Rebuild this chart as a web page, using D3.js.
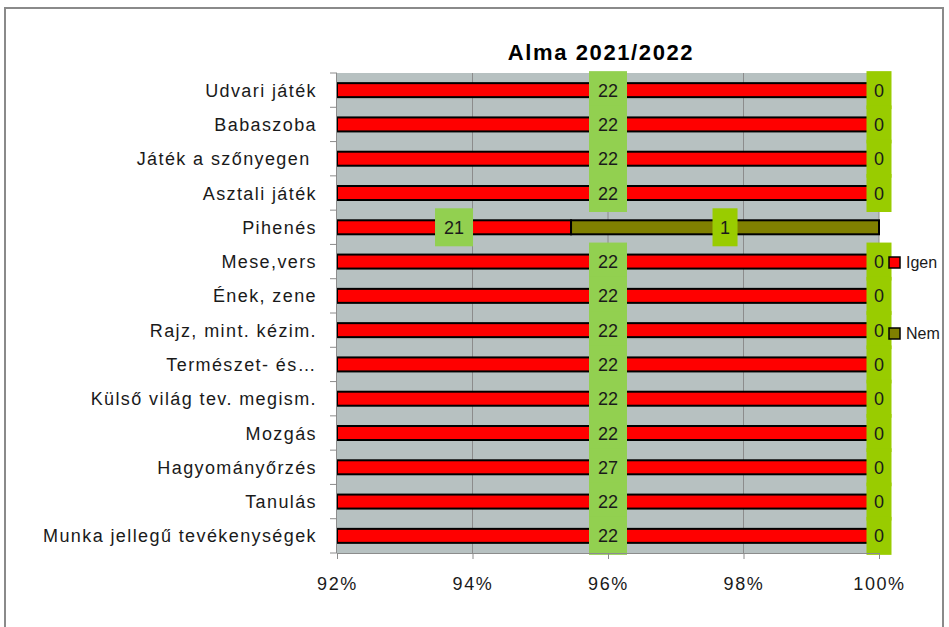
<!DOCTYPE html>
<html>
<head>
<meta charset="utf-8">
<script src="https://cdn.jsdelivr.net/npm/d3@7/dist/d3.min.js"></script>
<style>
  html, body { margin: 0; padding: 0; background: #ffffff; }
  svg { display: block; }
  text { font-family: "Liberation Sans", "Open Sans", sans-serif; }
</style>
</head>
<body>
<svg id="chart" width="949" height="627"></svg>
<script>
// ---- data ----
const title = "Alma 2021/2022";
const categories = [
  "Udvari játék", "Babaszoba", "Játék a szőnyegen ", "Asztali játék", "Pihenés",
  "Mese,vers", "Ének, zene", "Rajz, mint. kézim.", "Természet- és…",
  "Külső világ tev. megism.", "Mozgás", "Hagyományőrzés", "Tanulás",
  "Munka jellegű tevékenységek"
];
const seriesNames = ["Igen", "Nem"];
const igen = [22, 22, 22, 22, 21, 22, 22, 22, 22, 22, 22, 27, 22, 22];
const nem  = [0, 0, 0, 0, 1, 0, 0, 0, 0, 0, 0, 0, 0, 0];
const xTicks = [0.92, 0.94, 0.96, 0.98, 1.00];

// ---- layout ----
const svg = d3.select("#chart");
const plot = { left: 337, right: 879, top: 73, bottom: 553 };
const colors = { Igen: "#ff0000", Nem: "#808000" };
const labelFill = { Igen: "#92d050", Nem: "#99cc00" };

// frame
svg.append("rect").attr("x", 5).attr("y", 8).attr("width", 938).attr("height", 640)
  .attr("fill", "#ffffff").attr("stroke", "#8a8a8a").attr("stroke-width", 2);

const x = d3.scaleLinear().domain([0.92, 1.0]).range([plot.left, plot.right]);
const y = d3.scaleBand().domain(categories).range([plot.top, plot.bottom]).paddingInner(0).paddingOuter(0);

// plot background
svg.append("rect").attr("x", plot.left).attr("y", plot.top)
  .attr("width", plot.right - plot.left).attr("height", plot.bottom - plot.top)
  .attr("fill", "#b7c1c1");

// gridlines
svg.append("g").selectAll("line").data(xTicks.slice(1)).join("line")
  .attr("x1", d => x(d)).attr("x2", d => x(d))
  .attr("y1", plot.top).attr("y2", plot.bottom)
  .attr("stroke", "#8c8c8c").attr("stroke-width", 1);

// data rows
const rows = categories.map((c, i) => {
  const total = igen[i] + nem[i];
  return { cat: c, igen: igen[i], nem: nem[i], p1: igen[i] / total, total };
});

const clampX = v => x(Math.max(0.92, Math.min(1.0, v)));
const barH = 14;

const bars = svg.append("g");
rows.forEach(r => {
  const cy = y(r.cat) + y.bandwidth() / 2;
  const segs = [
    { name: "Igen", v: r.igen, a: 0, b: r.p1 },
    { name: "Nem", v: r.nem, a: r.p1, b: 1 }
  ];
  segs.forEach(s => {
    const x0 = clampX(s.a), x1 = clampX(s.b);
    if (x1 - x0 > 0.01) {
      bars.append("rect").attr("x", x0).attr("y", cy - barH / 2)
        .attr("width", x1 - x0).attr("height", barH)
        .attr("fill", colors[s.name]).attr("stroke", "#000").attr("stroke-width", 2);
    }
  });
});

// labels
const labels = svg.append("g");
rows.forEach(r => {
  const cy = y(r.cat) + y.bandwidth() / 2;
  const segs = [
    { name: "Igen", v: r.igen, a: 0, b: r.p1 },
    { name: "Nem", v: r.nem, a: r.p1, b: 1 }
  ];
  segs.forEach(s => {
    const x0 = clampX(s.a), x1 = clampX(s.b);
    const cx = (x0 + x1) / 2;
    const txt = String(s.v);
    const w = txt.length * 13 + 12;
    labels.append("rect").attr("x", cx - w / 2).attr("y", cy - 19)
      .attr("width", w).attr("height", 38).attr("fill", labelFill[s.name]);
    labels.append("text").attr("x", cx).attr("y", cy + 6.5)
      .attr("text-anchor", "middle").attr("font-size", 18).attr("fill", "#1a1a1a")
      .text(txt);
  });
});

// y axis
const yAxis = svg.append("g");
yAxis.append("line").attr("x1", plot.left - 0.5).attr("x2", plot.left - 0.5)
  .attr("y1", plot.top).attr("y2", plot.bottom).attr("stroke", "#8c8c8c");
const yb = categories.map(c => y(c)).concat([plot.bottom]);
yAxis.selectAll("line.t").data(yb).join("line").attr("class", "t")
  .attr("x1", plot.left - 7).attr("x2", plot.left).attr("y1", d => d).attr("y2", d => d)
  .attr("stroke", "#8c8c8c");
yAxis.selectAll("text").data(categories).join("text")
  .attr("x", 317).attr("y", d => y(d) + y.bandwidth() / 2 + 6.5)
  .attr("text-anchor", "end").attr("font-size", 18).attr("fill", "#1a1a1a")
  .attr("letter-spacing", 1.4)
  .style("white-space", "pre")
  .text(d => d);

// x axis
const xAxis = d3.axisBottom(x).tickValues(xTicks).tickFormat(d3.format(".0%")).tickSize(6).tickPadding(18);
const gx = svg.append("g").attr("transform", `translate(0,${plot.bottom})`).call(xAxis);
gx.select(".domain").attr("stroke", "#8c8c8c");
gx.selectAll(".tick line").attr("stroke", "#8c8c8c");
gx.selectAll(".tick text").attr("font-size", 18).attr("fill", "#1a1a1a")
  .attr("letter-spacing", 1.6)
  .attr("font-family", "Liberation Sans, sans-serif");

// title
svg.append("text").attr("x", 601).attr("y", 60).attr("text-anchor", "middle")
  .attr("font-size", 22).attr("font-weight", "bold").attr("fill", "#000")
  .attr("letter-spacing", 1.6).text(title);

// legend
const legend = svg.append("g");
const legY = [262, 333];
seriesNames.forEach((n, i) => {
  legend.append("rect").attr("x", 889).attr("y", legY[i] - 5).attr("width", 11).attr("height", 11)
    .attr("fill", colors[n]).attr("stroke", "#000").attr("stroke-width", 1.5);
  legend.append("text").attr("x", 906).attr("y", legY[i] + 6).attr("font-size", 16)
    .attr("fill", "#1a1a1a").text(n);
});
</script>
</body>
</html>
